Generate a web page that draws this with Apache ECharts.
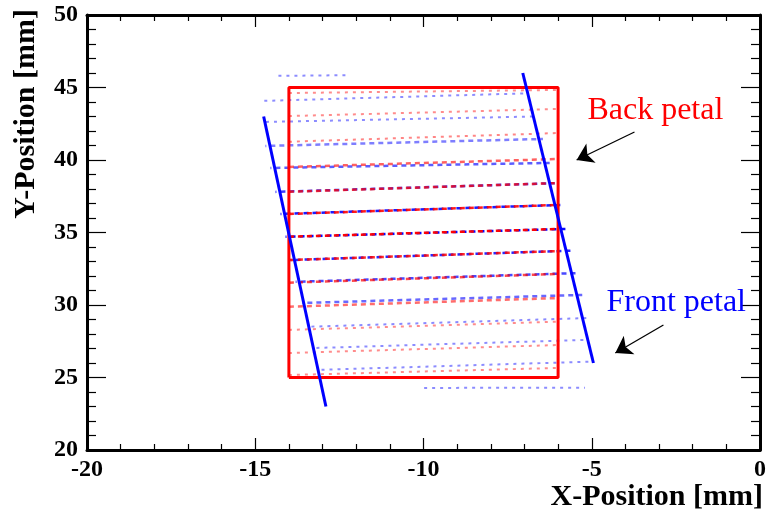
<!DOCTYPE html>
<html>
<head>
<meta charset="utf-8">
<title>Petal positions</title>
<script src="https://cdn.jsdelivr.net/npm/echarts/dist/echarts.min.js"></script>
<style>
  html, body { margin: 0; padding: 0; background: #fff; }
  #chart { width: 769px; height: 521px; }
</style>
</head>
<body>
<div id="chart"></div>
<script>
// back petal strips: y at x = -14 and y at x = -6
var backX = [-14, -6];
var backRows = [
  [44.62, 44.83], [43.03, 43.52], [41.26, 41.86], [39.52, 40.07], [37.81, 38.41],
  [36.28, 36.90], [34.71, 35.24], [33.10, 33.72], [31.54, 32.14], [29.88, 30.48],
  [28.28, 28.85], [26.69, 27.24], [25.17, 25.66]
];
// front petal strips: [x0, y0, x1, y1]
var frontRows = [
  [-14.43, 45.80, -12.20, 45.85],
  [-14.85, 44.07, -6.90, 44.60],
  [-14.80, 42.62, -6.70, 43.00],
  [-14.70, 40.97, -6.45, 41.45],
  [-14.55, 39.45, -6.25, 39.80],
  [-14.40, 37.80, -6.10, 38.40],
  [-14.25, 36.28, -5.90, 36.90],
  [-14.10, 34.70, -5.75, 35.25],
  [-13.95, 33.10, -5.60, 33.75],
  [-13.80, 31.60, -5.45, 32.20],
  [-13.60, 30.14, -5.20, 30.70],
  [-13.45, 28.50, -5.15, 29.10],
  [-13.30, 27.03, -5.10, 27.60],
  [-13.15, 25.52, -5.00, 26.10],
  [-10.10, 24.28, -5.20, 24.30]
];
var backBox = [[-14, 25], [-14, 45], [-6, 45], [-6, 25], [-14, 25]];
var frontLeftEdge = [[-14.75, 43.0], [-12.9, 23.0]];
var frontRightEdge = [[-7.05, 46.0], [-4.95, 26.0]];
var labelText = ['Back petal', 'Front petal'];
var labelPos = [[-3.11, 43.38], [-2.49, 30.14]];
var arrowFrom = [[-3.73, 41.93], [-2.87, 28.62]];
var arrowTo = [[-5.45, 40.00], [-4.30, 26.69]];

var RED = '#ff0000', BLUE = '#0000ff';
var serif = 'Liberation Serif';

function rowStyle(y, color, offset) {
  var d = Math.abs(y - 35.3);
  return {
    color: color,
    width: d < 6 ? 2.5 : 2,
    opacity: Math.max(0.45, 1 - d / 12),
    type: d < 6 ? [5, 4] : [3, 5],
    dashOffset: offset
  };
}

var backData = backRows.map(function (r) {
  return {
    coords: [[backX[0], r[0]], [backX[1], r[1]]],
    lineStyle: rowStyle((r[0] + r[1]) / 2, RED, 0)
  };
});
var frontData = frontRows.map(function (r) {
  return {
    coords: [[r[0], r[1]], [r[2], r[3]]],
    lineStyle: rowStyle((r[1] + r[3]) / 2, BLUE, 4)
  };
});

function axisX(pos, showLabel) {
  return {
    type: 'value', position: pos, min: -20, max: 0, interval: 5,
    axisLine: { onZero: false, lineStyle: { color: '#000', width: 3 } },
    axisTick: { inside: true, length: 12, lineStyle: { color: '#000', width: 1.2 } },
    minorTick: { show: true, splitNumber: 5, length: 6, lineStyle: { color: '#000', width: 1.2 } },
    splitLine: { show: false },
    axisLabel: { show: showLabel, color: '#000', fontFamily: serif, fontWeight: 'bold', fontSize: 24, margin: 8 }
  };
}
function axisY(pos, showLabel) {
  return {
    type: 'value', position: pos, min: 20, max: 50, interval: 5,
    axisLine: { onZero: false, lineStyle: { color: '#000', width: 3 } },
    axisTick: { inside: true, length: 19, lineStyle: { color: '#000', width: 1.2 } },
    minorTick: { show: true, splitNumber: 5, length: 9, lineStyle: { color: '#000', width: 1.2 } },
    splitLine: { show: false },
    axisLabel: { show: showLabel, color: '#000', fontFamily: serif, fontWeight: 'bold', fontSize: 24, margin: 9 }
  };
}

var chart = echarts.init(document.getElementById('chart'), null, { renderer: 'canvas' });
var option = {
  animation: false,
  backgroundColor: '#fff',
  grid: { left: 87, right: 7, top: 15, bottom: 71 },
  xAxis: [axisX('bottom', true), axisX('top', false)],
  yAxis: [axisY('left', true), axisY('right', false)],
  series: [
    { name: 'front strips', type: 'lines', coordinateSystem: 'cartesian2d', data: frontData, silent: true, z: 2 },
    { name: 'back strips', type: 'lines', coordinateSystem: 'cartesian2d', data: backData, silent: true, z: 3 },
    { name: 'back box', type: 'line', data: backBox, symbol: 'none', silent: true, z: 4,
      lineStyle: { color: RED, width: 3 } },
    { name: 'front left', type: 'line', data: frontLeftEdge, symbol: 'none', silent: true, z: 5,
      lineStyle: { color: BLUE, width: 3 } },
    { name: 'front right', type: 'line', data: frontRightEdge, symbol: 'none', silent: true, z: 5,
      lineStyle: { color: BLUE, width: 3 } },
    { name: 'arrows', type: 'lines', coordinateSystem: 'cartesian2d', silent: true, z: 6,
      symbol: ['none', 'arrow'], symbolSize: [11, 16],
      lineStyle: { color: '#000', width: 1.3, opacity: 1 },
      data: arrowFrom.map(function (p, i) { return { coords: [p, arrowTo[i]] }; }) }
  ]
};
chart.setOption(option);

// axis titles and petal labels as plain text
var graphics = [
  { type: 'text', x: 763, y: 497,
    style: { text: 'X-Position [mm]', fill: '#000', font: 'bold 30px "Liberation Serif"', textAlign: 'right', textVerticalAlign: 'middle' } },
  { type: 'text', x: 26, y: 9, rotation: Math.PI / 2,
    style: { text: 'Y-Position [mm]', fill: '#000', font: 'bold 30px "Liberation Serif"', textAlign: 'right', textVerticalAlign: 'middle' } }
];
labelPos.forEach(function (p, i) {
  var px = chart.convertToPixel({ gridIndex: 0 }, p);
  graphics.push({ type: 'text', x: px[0], y: px[1], z: 10,
    style: { text: labelText[i], fill: i === 0 ? RED : BLUE, font: '32px "Liberation Serif"',
             textAlign: 'center', textVerticalAlign: 'middle' } });
});
chart.setOption({ graphic: graphics });
</script>
</body>
</html>
